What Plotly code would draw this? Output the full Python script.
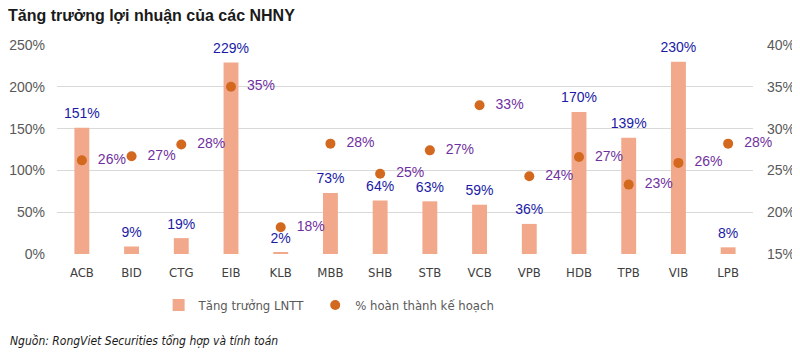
import plotly.graph_objects as go

banks = ["ACB", "BID", "CTG", "EIB", "KLB", "MBB", "SHB", "STB", "VCB", "VPB", "HDB", "TPB", "VIB", "LPB"]
growth = [151, 9, 19, 229, 2, 73, 64, 63, 59, 36, 170, 139, 230, 8]
completion = [26.2, 26.7, 28.1, 35.0, 18.2, 28.2, 24.6, 27.4, 32.8, 24.3, 26.6, 23.3, 25.9, 28.2]
completion_labels = ["26%", "27%", "28%", "35%", "18%", "28%", "25%", "27%", "33%", "24%", "27%", "23%", "26%", "28%"]
left_ticks = [0, 50, 100, 150, 200, 250]
right_ticks = [15, 20, 25, 30, 35, 40]

narrow = "DejaVu Sans Condensed, Liberation Sans Narrow, sans-serif"
reg = "Liberation Sans, Arial, sans-serif"

fig = go.Figure()
fig.add_trace(go.Bar(
    x=banks, y=growth, name="Tăng trưởng LNTT",
    marker=dict(color="#F2A98B", line=dict(width=0)),
    width=0.3, legend="legend", hoverinfo="x+y",
))
# bar value labels
fig.add_trace(go.Scatter(
    x=banks, y=growth, mode="markers+text", showlegend=False,
    marker=dict(size=8, opacity=0),
    text=[f"{v}%" for v in growth], textposition="top center",
    textfont=dict(color="#1A1AA6", size=14, family=reg),
    cliponaxis=False, hoverinfo="skip",
))
fig.add_trace(go.Scatter(
    x=banks, y=completion, yaxis="y2", name="% hoàn thành kế hoạch",
    mode="markers", legend="legend2",
    marker=dict(color="#D2691E", size=10),
    cliponaxis=False,
))
# completion labels
fig.add_trace(go.Scatter(
    x=banks, y=completion, yaxis="y2", mode="markers+text", showlegend=False,
    marker=dict(size=24, opacity=0),
    text=completion_labels, textposition="middle right",
    textfont=dict(color="#7030A0", size=14, family=reg),
    cliponaxis=False, hoverinfo="skip",
))

leg_common = dict(orientation="h", y=-0.244, yanchor="middle", xanchor="left",
                  font=dict(size=13, color="#595959", family=narrow),
                  itemwidth=30, bgcolor="rgba(0,0,0,0)")

fig.update_layout(
    width=792, height=349,
    margin=dict(l=49, r=47, t=37, b=103, autoexpand=False),
    paper_bgcolor="white", plot_bgcolor="white",
    title=dict(text="<b>Tăng trưởng lợi nhuận của các NHNY</b>",
               x=0.0, xref="container", xanchor="left",
               y=0.994, yref="container", yanchor="top",
               font=dict(size=16, color="#1a1a1a", family=reg)),
    xaxis=dict(range=[-0.5, len(banks) - 0.5],
               showgrid=False, showline=False, ticks="", automargin=False,
               tickfont=dict(size=13, color="#404040", family=narrow),
               ticklabelstandoff=9),
    yaxis=dict(range=[0, 250], tickvals=left_ticks, automargin=False,
               ticktext=[f"{v}%" for v in left_ticks],
               showgrid=True, gridcolor="#D9D9D9", gridwidth=1,
               zeroline=False, showline=False,
               tickfont=dict(size=14, color="#595959", family=reg),
               ticklabelstandoff=11),
    yaxis2=dict(range=[15, 40], tickvals=right_ticks, automargin=False,
                ticktext=[f"{v}%" for v in right_ticks],
                overlaying="y", side="right", showgrid=False,
                zeroline=False, showline=False,
                tickfont=dict(size=14, color="#595959", family=reg),
                ticklabelstandoff=13),
    legend=dict(x=0.146, **leg_common),
    legend2=dict(x=0.371, **leg_common),
    annotations=[dict(text="<i>Nguồn: RongViet Securities tổng hợp và tính toán</i>",
                      xref="paper", yref="paper", x=-0.0704, y=-0.416,
                      xanchor="left", yanchor="middle", showarrow=False,
                      font=dict(size=12, color="#1a1a1a", family=narrow))],
)

fig.write_html("out.html")
